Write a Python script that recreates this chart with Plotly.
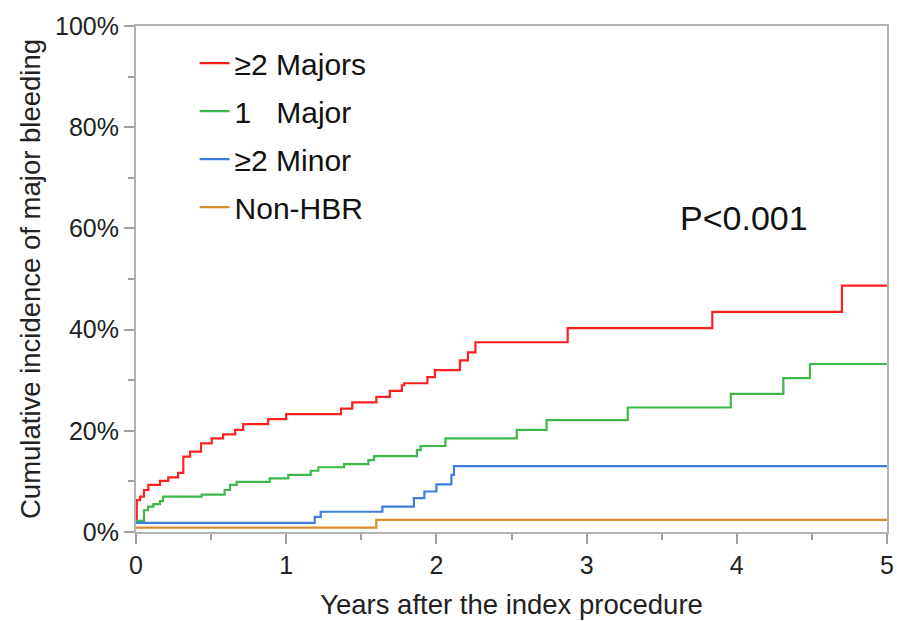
import plotly.graph_objects as go

# Kaplan-Meier style cumulative incidence (years, %)
red_t = [0, 0.005, 0.027, 0.053, 0.082, 0.16, 0.215, 0.28, 0.315, 0.36, 0.433, 0.504,
         0.58, 0.66, 0.714, 0.88, 1.0, 1.365, 1.44, 1.6, 1.69, 1.77, 1.785, 1.94, 1.99,
         2.157, 2.21, 2.26, 2.874, 3.837, 4.70, 5.0]
red_v = [2.0, 6.3, 7.0, 8.3, 9.3, 10.1, 10.8, 11.7, 14.9, 15.9, 17.5, 18.5,
         19.3, 20.2, 21.3, 22.3, 23.3, 24.4, 25.6, 26.7, 27.9, 29.0, 29.4, 30.6, 32.0,
         33.9, 35.5, 37.5, 40.3, 43.5, 48.7, 48.7]

green_t = [0, 0.053, 0.08, 0.115, 0.16, 0.18, 0.437, 0.59, 0.626, 0.67, 0.89, 1.014,
           1.163, 1.214, 1.385, 1.547, 1.585, 1.87, 1.895, 2.06, 2.535, 2.734, 3.274,
           3.96, 4.31, 4.487, 5.0]
green_v = [2.2, 4.3, 5.0, 5.5, 6.1, 7.0, 7.4, 8.3, 9.3, 9.9, 10.6, 11.3,
           12.1, 12.8, 13.4, 14.2, 15.0, 16.2, 17.0, 18.5, 20.2, 22.1, 24.6,
           27.3, 30.4, 33.2, 33.2]

blue_t = [0, 1.19, 1.23, 1.64, 1.85, 1.92, 2.0, 2.10, 2.117, 5.0]
blue_v = [1.8, 3.0, 4.0, 5.0, 6.7, 8.0, 9.4, 11.3, 13.0, 13.0]

orange_t = [0, 1.60, 5.0]
orange_v = [0.85, 2.4, 2.4]

series = [
    ("≥2 Majors", red_t, red_v, "#ff1f1f"),
    ("1   Major", green_t, green_v, "#3db84a"),
    ("≥2 Minor", blue_t, blue_v, "#3f7de0"),
    ("Non-HBR", orange_t, orange_v, "#d98b2b"),
]

FONT = "Arial, Liberation Sans, sans-serif"

fig = go.Figure()
for i, (name, t, v, color) in enumerate(series):
    fig.add_trace(go.Scatter(
        x=t, y=v, mode="lines", name=name,
        line=dict(shape="hv", color=color, width=2.2),
        legendgroup=f"g{i}",
    ))

fig.add_annotation(
    text="P<0.001", xref="paper", yref="paper", x=0.81, y=0.62,
    xanchor="center", yanchor="middle",
    showarrow=False, font=dict(size=34, color="#111", family=FONT),
)

axis_common = dict(
    showline=True, linecolor="#b3b3b3", linewidth=2, mirror=True,
    ticks="outside", tickcolor="#a0a0a0", tickwidth=1.5, ticklen=10,
    showgrid=False, zeroline=False, automargin=False,
    tickfont=dict(size=25, color="#222", family=FONT),
)

fig.update_layout(
    width=897, height=621,
    margin=dict(l=136, r=10, t=26, b=89),
    paper_bgcolor="white", plot_bgcolor="white",
    font=dict(family=FONT, color="#222"),
    showlegend=True,
    legend=dict(
        x=0.078, y=0.978, xanchor="left", yanchor="top",
        font=dict(size=30, color="#111", family=FONT),
        tracegroupgap=6, bgcolor="rgba(0,0,0,0)",
    ),
    xaxis=dict(
        range=[0, 5], dtick=1, tick0=0,
        minor=dict(dtick=0.5, ticks="outside", ticklen=6, tickcolor="#a0a0a0"),
        title=dict(text="Years after the index procedure",
                   font=dict(size=27.5, color="#222", family=FONT), standoff=17),
        **axis_common,
    ),
    yaxis=dict(
        range=[0, 100], dtick=20, tick0=0, ticksuffix="%",
        minor=dict(dtick=10, ticks="outside", ticklen=6, tickcolor="#a0a0a0"),
        title=dict(text="Cumulative incidence of major bleeding",
                   font=dict(size=27.5, color="#222", family=FONT), standoff=6),
        **axis_common,
    ),
)

fig.write_html("out.html")
